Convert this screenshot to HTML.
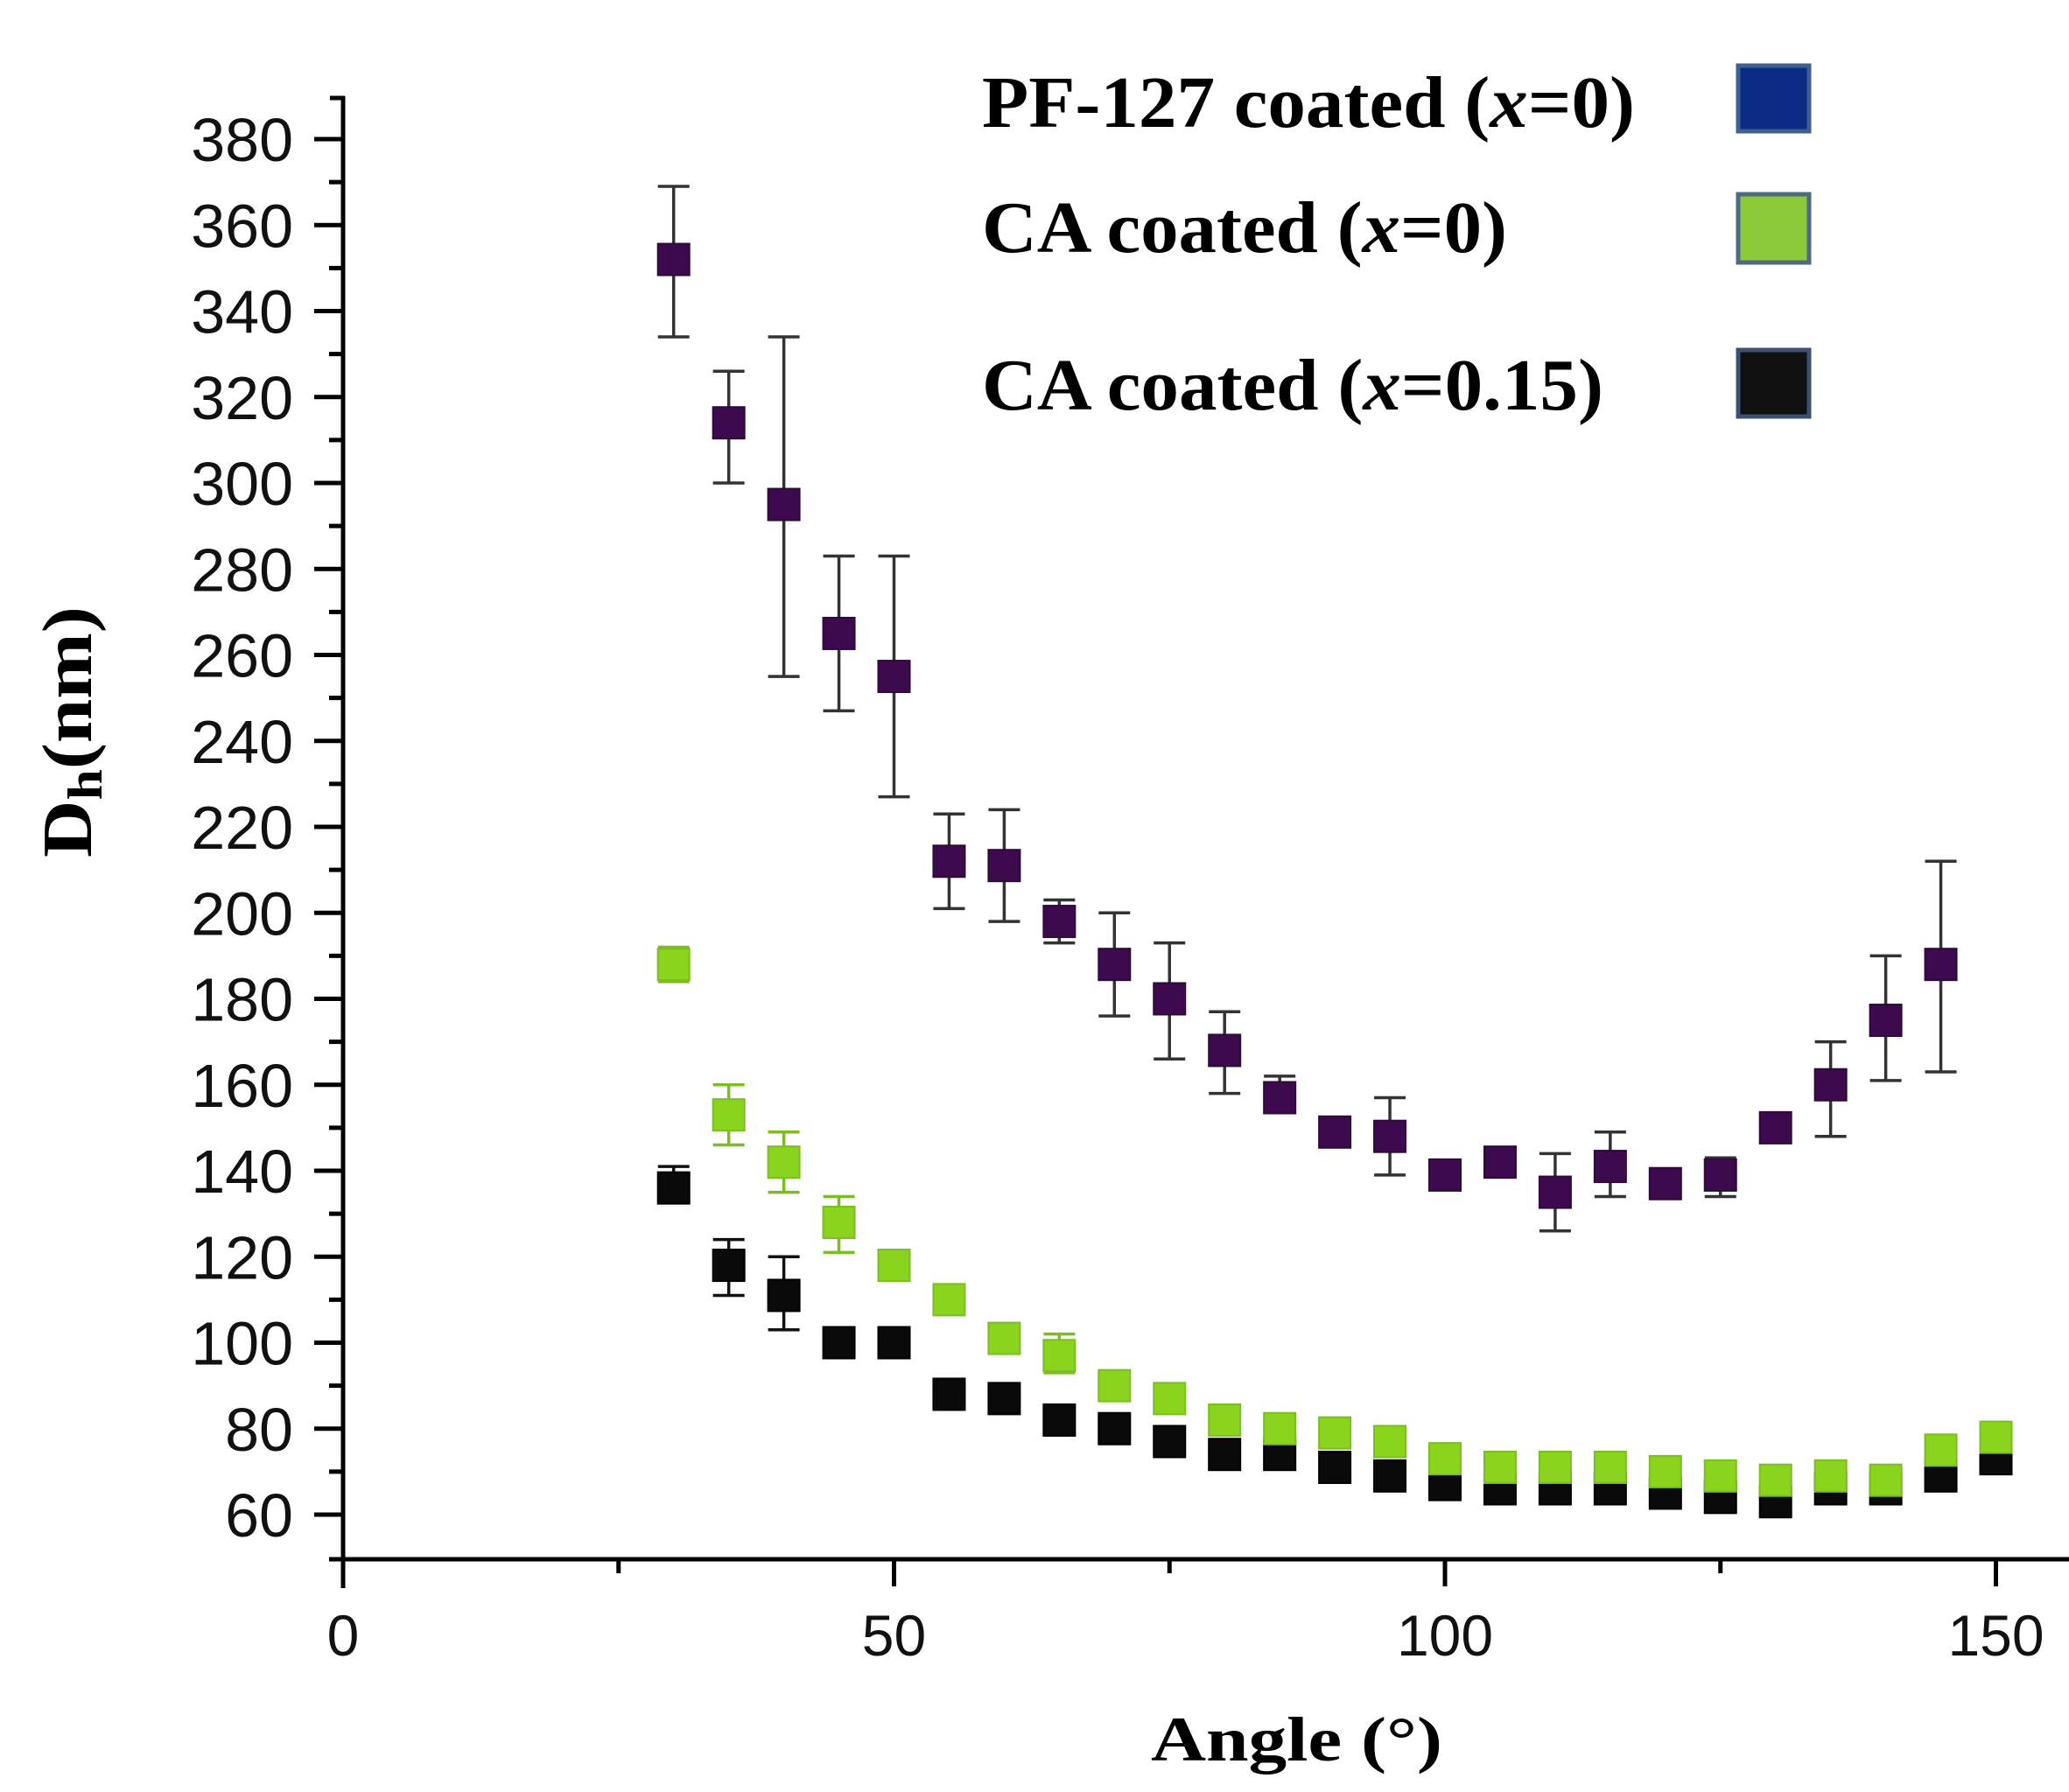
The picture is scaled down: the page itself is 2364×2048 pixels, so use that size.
<!DOCTYPE html>
<html><head><meta charset="utf-8"><style>
html,body{margin:0;padding:0;background:#fff;}
svg{display:block;}
</style></head><body>
<svg id="s" width="2364" height="2048" viewBox="0 0 2364 2048" xmlns="http://www.w3.org/2000/svg">
<rect width="2364" height="2048" fill="#fff"/>
<g id="axes" stroke="#000" stroke-width="5" fill="none">
<line x1="392" y1="110" x2="392" y2="1815"/>
<line x1="390" y1="1782" x2="2364" y2="1782"/>
<line x1="377" y1="112" x2="394" y2="112"/>
</g>
<g id="ticks" stroke="#000" stroke-width="5"></g>
<g font-family="Liberation Sans, Arial, sans-serif" font-size="70" fill="#111" text-anchor="end" id="ylab"></g>
<g font-family="Liberation Sans, Arial, sans-serif" font-size="66" fill="#111" text-anchor="middle" id="xlab"></g>
<text x="1315" y="2012" font-family="Liberation Serif, serif" font-weight="bold" font-size="72" textLength="333" lengthAdjust="spacingAndGlyphs" fill="#000">Angle (°)</text>
<text transform="translate(104,980) rotate(-90)" font-family="Liberation Serif, serif" font-weight="bold" font-size="80" fill="#000" textLength="287" lengthAdjust="spacingAndGlyphs">D<tspan font-size="56" dy="12">h</tspan><tspan dy="-12">(nm)</tspan></text>
<g font-family="Liberation Serif, serif" font-weight="bold" font-size="84" fill="#000">
<text x="1122" y="145" textLength="746" lengthAdjust="spacingAndGlyphs">PF-127 coated (<tspan font-style="italic">x</tspan>=0)</text>
<text x="1122" y="288" textLength="600" lengthAdjust="spacingAndGlyphs">CA coated (<tspan font-style="italic">x</tspan>=0)</text>
<text x="1122" y="468" textLength="710" lengthAdjust="spacingAndGlyphs">CA coated (<tspan font-style="italic">x</tspan>=0.15)</text>
</g>
<rect x="1986" y="75" width="81" height="75" fill="#0b2c82" stroke="#3f5e92" stroke-width="5"/>
<rect x="1986" y="222" width="81" height="78" fill="#8cca3a" stroke="#4d6a82" stroke-width="5"/>
<rect x="1986" y="400" width="81" height="76" fill="#111" stroke="#3c5070" stroke-width="5"/>
<g id="data"></g>
</svg>
<script>
var NS="http://www.w3.org/2000/svg";
function X(a){return 392+12.59*a;}
function Y(v){return 159+(380-v)*4.9125;}
function el(p,t,at){var e=document.createElementNS(NS,t);for(var k in at)e.setAttribute(k,at[k]);p.appendChild(e);return e;}
var tk=document.getElementById('ticks'),yl=document.getElementById('ylab'),xl=document.getElementById('xlab');
for(var v=60;v<=380;v+=10){var y=Y(v);var maj=(v%20==0);el(tk,'line',{x1:maj?359:376,y1:y,x2:392,y2:y});
 if(maj){var t=el(yl,'text',{x:335,y:y+25});t.textContent=v;}}
el(tk,'line',{x1:376,y1:1782,x2:392,y2:1782});
for(var a=25;a<=150;a+=25){var mj=(a%50==0);el(tk,'line',{x1:X(a),y1:1782,x2:X(a),y2:mj?1813:1798});}
[0,50,100,150].forEach(function(a){var t=el(xl,'text',{x:X(a),y:1892});t.textContent=a;});
var black=[[30,136,133,141],[35,118,111,124],[40,111,103,120],[45,100],[50,100,97,103],[55,88,86,90],[60,87],[65,82],[70,80],[75,77],[80,74],[85,74],[90,71],[95,69],[100,67],[105,66],[110,66],[115,66],[120,65],[125,64],[130,63],[135,66],[140,66],[145,69],[150,73]];
var green=[[30,188,184,192],[35,153,146,160],[40,142,135,149],[45,128,121,134],[50,118],[55,110],[60,101],[65,97,93,102],[70,90],[75,87],[80,82],[85,80],[90,79],[95,77],[100,73],[105,71],[110,71],[115,71],[120,70],[125,69],[130,68],[135,69],[140,68],[145,75],[150,78]];
var purple=[[30,352,334,369],[35,314,300,326],[40,295,255,334],[45,265,247,283],[50,255,227,283],[55,212,201,223],[60,211,198,224],[65,198,193,203],[70,188,176,200],[75,180,166,193],[80,168,158,177],[85,157,155,162],[90,149],[95,148,139,157],[100,139],[105,142,140,144],[110,135,126,144],[115,141,134,149],[120,137],[125,139,134,143],[130,150],[135,160,148,170],[140,175,161,190],[145,188,163,212]];
var d=document.getElementById('data');
function draw(arr,fill,stroke,ec){arr.forEach(function(p){var x=X(p[0]),y=Y(p[1]);
 if(p.length>2){var y1=Y(p[2]),y2=Y(p[3]);el(d,'line',{x1:x,y1:y1,x2:x,y2:y2,stroke:ec,'stroke-width':3.5});
 el(d,'line',{x1:x-18,y1:y1,x2:x+18,y2:y1,stroke:ec,'stroke-width':3.5});el(d,'line',{x1:x-18,y1:y2,x2:x+18,y2:y2,stroke:ec,'stroke-width':3.5});}
 el(d,'rect',{x:x-18,y:y-18,width:36,height:36,fill:fill,stroke:stroke,'stroke-width':2});});}
draw(black,'#0a0a0a','#000','#111');
draw(green,'#8ad41e','#7cbc24','#7cbc24');
draw(purple,'#3d0a4d','#2e0a3a','#333');
</script>
</body></html>
